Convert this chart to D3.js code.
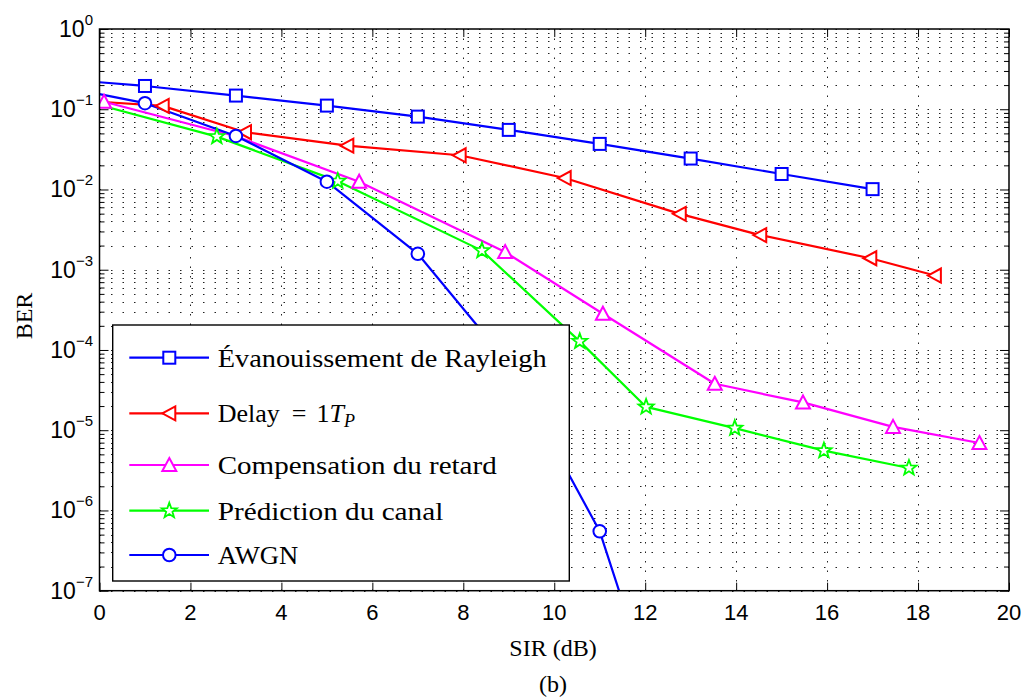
<!DOCTYPE html>
<html>
<head>
<meta charset="utf-8">
<script src="https://cdn.jsdelivr.net/npm/d3@7"></script>
<style>
  html, body { margin: 0; padding: 0; background: #fff; }
  svg { display: block; }
</style>
</head>
<body>
<svg id="chart" width="1029" height="700"></svg>
<script>
// ---------------- data ----------------
const xTicks = [0, 2, 4, 6, 8, 10, 12, 14, 16, 18, 20];
const yExponents = [0, -1, -2, -3, -4, -5, -6, -7];

const sirRayleigh = [0, 1, 3, 5, 7, 9, 11, 13, 15, 17];
const berRayleigh = [0.217, 0.195, 0.148, 0.111, 0.0809, 0.0553, 0.0370, 0.0243, 0.0156, 0.0101];

const sirDelay = [0, 1.39, 3.20, 5.45, 7.92, 10.23, 12.76, 14.53, 16.95, 18.37];
const berDelay = [0.124, 0.110, 0.0517, 0.0352, 0.0267, 0.0139, 0.00497, 0.00270, 0.00139, 0.000847];

const sirComp = [0.10, 3, 5.71, 8.92, 11.07, 13.53, 15.47, 17.45, 19.35];
const berComp = [0.124, 0.046, 0.0125, 0.00166, 0.000283, 3.79e-5, 2.22e-5, 1.10e-5, 6.93e-6];

const sirPred = [0, 2.58, 5.24, 8.41, 10.56, 12.02, 13.97, 15.93, 17.80];
const berPred = [0.113, 0.0456, 0.0127, 0.00173, 1.28e-4, 1.95e-5, 1.06e-5, 5.56e-6, 3.38e-6];

const sirAwgn = [0, 1, 3, 5, 7, 9, 11, 13];
const berAwgn = [0.154, 0.119, 0.0465, 0.0125, 0.00158, 6.73e-5, 5.5e-7, 1.8e-10];

// indices of points drawn without a marker
const noMarkRayleigh = [0];
const noMarkDelay = [0];
const noMarkComp = [1];
const noMarkPred = [0];
const noMarkAwgn = [0];

const seriesNames = ["Évanouissement de Rayleigh", "Delay = 1T_P", "Compensation du retard", "Prédiction du canal", "AWGN"];

// ---------------- layout ----------------
const L = 99.5, R = 1009, T = 29, B = 590.7;
const svg = d3.select("#chart");
const x = d3.scaleLinear().domain([0, 20]).range([L, R]);
const y = d3.scaleLog().domain([1e-7, 1]).range([B, T]);

const series = [
  { name: seriesNames[0], xs: sirRayleigh, ys: berRayleigh, skip: noMarkRayleigh, color: "#0000ff", marker: "square" },
  { name: seriesNames[1], xs: sirDelay, ys: berDelay, skip: noMarkDelay, color: "#ff0000", marker: "triLeft" },
  { name: seriesNames[2], xs: sirComp, ys: berComp, skip: noMarkComp, color: "#ff00ff", marker: "triUp" },
  { name: seriesNames[3], xs: sirPred, ys: berPred, skip: noMarkPred, color: "#00ff00", marker: "star" },
  { name: seriesNames[4], xs: sirAwgn, ys: berAwgn, skip: noMarkAwgn, color: "#0000ff", marker: "circle" }
];

const minorVals = [];
for (let e = -7; e < 0; e++) {
  for (let m = 2; m <= 9; m++) minorVals.push(m * Math.pow(10, e));
}
const majorVals = yExponents.map(e => Math.pow(10, e));

const grid = svg.append("g");
grid.selectAll("line.h").data(majorVals.concat(minorVals)).enter().append("line")
  .attr("x1", L).attr("x2", R)
  .attr("y1", d => Math.round(y(d)) + 0.5).attr("y2", d => Math.round(y(d)) + 0.5)
  .attr("stroke", "#222").attr("stroke-width", 1)
  .attr("stroke-dasharray", "1.5,10");
grid.selectAll("line.v").data(xTicks.slice(1, -1)).enter().append("line")
  .attr("x1", d => Math.round(x(d)) + 0.5).attr("x2", d => Math.round(x(d)) + 0.5)
  .attr("y1", T).attr("y2", B)
  .attr("stroke", "#222").attr("stroke-width", 1)
  .attr("stroke-dasharray", "1.5,8");

const tickStyle = g => {
  g.select(".domain").remove();
  g.selectAll(".tick line").attr("stroke", "#000").attr("stroke-width", 1);
};
svg.append("g").attr("transform", `translate(0,${B})`)
  .call(d3.axisBottom(x).tickValues(xTicks).tickSize(-8).tickFormat(""))
  .call(tickStyle);
svg.append("g").attr("transform", `translate(0,${T})`)
  .call(d3.axisTop(x).tickValues(xTicks).tickSize(-8).tickFormat(""))
  .call(tickStyle);
svg.append("g").attr("transform", `translate(${L},0)`)
  .call(d3.axisLeft(y).tickValues(majorVals).tickSize(-9).tickFormat(""))
  .call(tickStyle);
svg.append("g").attr("transform", `translate(${L},0)`)
  .call(d3.axisLeft(y).tickValues(minorVals).tickSize(-5).tickFormat(""))
  .call(tickStyle);
svg.append("g").attr("transform", `translate(${R},0)`)
  .call(d3.axisRight(y).tickValues(majorVals).tickSize(-9).tickFormat(""))
  .call(tickStyle);
svg.append("g").attr("transform", `translate(${R},0)`)
  .call(d3.axisRight(y).tickValues(minorVals).tickSize(-5).tickFormat(""))
  .call(tickStyle);

// tick labels
const sans = "'Liberation Sans', Arial, Helvetica, sans-serif";
svg.append("g").selectAll("text").data(xTicks).enter().append("text")
  .attr("x", d => x(d)).attr("y", B + 29)
  .attr("text-anchor", "middle")
  .attr("font-family", sans).attr("font-size", 22)
  .text(d => d);

const yl = svg.append("g").selectAll("text").data(yExponents).enter().append("text")
  .attr("x", 93).attr("y", d => y(Math.pow(10, d)) + 8)
  .attr("text-anchor", "end")
  .attr("font-family", sans).attr("font-size", 23);
yl.append("tspan").text("10");
yl.append("tspan").attr("dy", -12).attr("font-size", 15)
  .text(d => d === 0 ? "0" : "\u2212" + (-d));

// series
const clip = svg.append("clipPath").attr("id", "plotclip");
clip.append("rect").attr("x", L).attr("y", T).attr("width", R - L).attr("height", B - T);

const plot = svg.append("g").attr("clip-path", "url(#plotclip)");
const line = d3.line().x(d => x(d[0])).y(d => y(d[1]));

function drawMarker(g, type, color, cx, cy) {
  const sw = 2;
  if (type === "square") {
    g.append("rect").attr("x", cx - 6).attr("y", cy - 6).attr("width", 12).attr("height", 12)
      .attr("fill", "#fff").attr("stroke", color).attr("stroke-width", sw);
  } else if (type === "circle") {
    g.append("circle").attr("cx", cx).attr("cy", cy).attr("r", 6.3)
      .attr("fill", "#fff").attr("stroke", color).attr("stroke-width", sw);
  } else if (type === "triLeft") {
    g.append("path").attr("d", `M${cx - 7},${cy} L${cx + 6},${cy - 7} L${cx + 6},${cy + 7} Z`)
      .attr("fill", "#fff").attr("stroke", color).attr("stroke-width", sw);
  } else if (type === "triUp") {
    g.append("path").attr("d", `M${cx},${cy - 7} L${cx + 7},${cy + 6} L${cx - 7},${cy + 6} Z`)
      .attr("fill", "#fff").attr("stroke", color).attr("stroke-width", sw);
  } else if (type === "star") {
    const pts = [];
    for (let i = 0; i < 10; i++) {
      const r = i % 2 === 0 ? 8 : 3.3;
      const a = -Math.PI / 2 + i * Math.PI / 5;
      pts.push([cx + r * Math.cos(a), cy + r * Math.sin(a)]);
    }
    g.append("path").attr("d", "M" + pts.map(p => p.join(",")).join("L") + "Z")
      .attr("fill", "#fff").attr("stroke", color).attr("stroke-width", 1.8);
  }
}

series.forEach(s => {
  const pts = s.xs.map((v, i) => [v, s.ys[i]]);
  plot.append("path").datum(pts).attr("d", line)
    .attr("fill", "none").attr("stroke", s.color).attr("stroke-width", 2.2)
    .attr("stroke-linejoin", "round");
});
series.forEach(s => {
  const g = plot.append("g");
  s.xs.forEach((v, i) => {
    if (s.skip.includes(i)) return;
    drawMarker(g, s.marker, s.color, x(v), y(s.ys[i]));
  });
});

// frame
svg.append("rect").attr("x", L).attr("y", T).attr("width", R - L).attr("height", B - T)
  .attr("fill", "none").attr("stroke", "#000").attr("stroke-width", 1.5);

// legend
const serif = "'Liberation Serif', 'Times New Roman', serif";
const lg = svg.append("g");
lg.append("rect").attr("x", 112.7).attr("y", 325).attr("width", 456.6).attr("height", 256)
  .attr("fill", "#fff").attr("stroke", "#000").attr("stroke-width", 1.4);
const rowY = [357.7, 413.3, 465, 510.7, 555];
const textW = [329, null, 279, 225.6, 80.6];
series.forEach((s, i) => {
  const ry = rowY[i];
  lg.append("line").attr("x1", 129.3).attr("x2", 209).attr("y1", ry).attr("y2", ry)
    .attr("stroke", s.color).attr("stroke-width", 2.2);
  drawMarker(lg, s.marker, s.color, 169.3, ry);
  const t = lg.append("text").attr("x", 217.7).attr("y", ry + 9)
    .attr("font-family", serif).attr("font-size", 26).attr("fill", "#000");
  if (s.name === "Delay = 1T_P") {
    t.append("tspan").text("Delay");
    t.append("tspan").attr("dx", 12).text("=");
    t.append("tspan").attr("dx", 10).text("1");
    t.append("tspan").attr("font-style", "italic").text("T");
    t.append("tspan").attr("font-style", "italic").attr("font-size", 18).attr("dy", 5).text("P");
  } else {
    t.text(s.name);
    if (textW[i]) t.attr("textLength", textW[i]).attr("lengthAdjust", "spacingAndGlyphs");
  }
});

// axis titles
svg.append("text").attr("x", 553).attr("y", 656).attr("text-anchor", "middle")
  .attr("font-family", serif).attr("font-size", 24).text("SIR (dB)");
svg.append("text").attr("transform", "translate(32,316) rotate(-90)").attr("text-anchor", "middle")
  .attr("font-family", serif).attr("font-size", 24).text("BER");
svg.append("text").attr("x", 553).attr("y", 692).attr("text-anchor", "middle")
  .attr("font-family", serif).attr("font-size", 24).text("(b)");
</script>
</body>
</html>
